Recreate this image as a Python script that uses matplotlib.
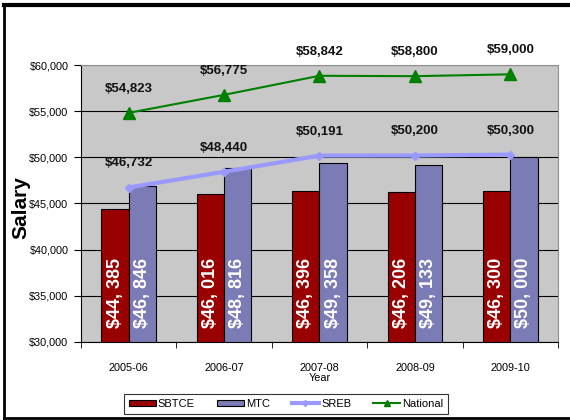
import numpy as np
import matplotlib
matplotlib.use("Agg")
import matplotlib.pyplot as plt
from matplotlib.lines import Line2D
from matplotlib.ticker import FuncFormatter, FixedLocator

# data
years = ["2005-06", "2006-07", "2007-08", "2008-09", "2009-10"]
sbtce = [44385, 46016, 46396, 46206, 46300]
mtc = [46846, 48816, 49358, 49133, 50000]
sreb = [46732, 48440, 50191, 50200, 50300]
national = [54823, 56775, 58842, 58800, 59000]

arial = ["Liberation Sans", "DejaVu Sans"]

red = "#990000"
blue = "#7b7bb5"
lav = "#9999ff"
green = "#008000"

fig = plt.figure(figsize=(5.7, 4.2), dpi=100)
ax = fig.add_axes([0.142, 0.186, 0.837, 0.659])
ax.set_facecolor("#c8c8c8")

x = np.arange(len(years))
w = 0.286
ax.bar(x - w/2, np.array(sbtce) - 30000, w, bottom=30000, color=red,
       edgecolor="black", linewidth=0.8, zorder=3)
ax.bar(x + w/2, np.array(mtc) - 30000, w, bottom=30000, color=blue,
       edgecolor="black", linewidth=0.8, zorder=3)

# values written up the bars
for xs, vals in ((x - w/2, sbtce), (x + w/2, mtc)):
    for xi, v in zip(xs, vals):
        s = "${:,}".format(v).replace(",", ", ")
        ax.annotate(s, (xi, 30000), xytext=(0, 10), textcoords="offset points",
                    rotation=90, ha="center", va="bottom", color="white",
                    fontsize=13, fontweight="bold", family=arial, zorder=5)

ax.plot(x, sreb, color=lav, lw=3, marker="D", ms=4, zorder=4)
ax.plot(x, national, color=green, lw=1.5, marker="^", ms=8, zorder=4)

for series in (sreb, national):
    for xi, v in zip(x, series):
        ax.annotate("${:,}".format(v), (xi, v), xytext=(0, 13), textcoords="offset points",
                    ha="center", va="bottom", fontsize=9.5, fontweight="bold",
                    family=arial, color="#111111", zorder=6)

ax.set_xlim(-0.5, len(years) - 0.5)
ax.set_ylim(30000, 60000)
ax.set_yticks(np.arange(30000, 60001, 5000))
ax.yaxis.set_major_formatter(FuncFormatter(lambda v, p: "${:,.0f}".format(v)))
ax.grid(axis="y", color="black", lw=0.8, zorder=1)
ax.set_axisbelow(True)

ax.set_xticks(x)
ax.set_xticklabels(years)
ax.xaxis.set_minor_locator(FixedLocator(np.arange(-0.5, len(years), 1.0)))
ax.tick_params(axis="x", which="major", length=0, pad=15)
ax.tick_params(axis="x", which="minor", length=4, direction="out")
ax.tick_params(axis="y", length=5, direction="out", pad=4)
for lab in ax.get_xticklabels() + ax.get_yticklabels():
    lab.set_family(arial)
    lab.set_fontsize(7.8)

ax.set_xlabel("Year", family=arial, fontsize=7.8, labelpad=0)
ax.set_ylabel("Salary", family=arial, fontsize=15, fontweight="bold")
ax.yaxis.set_label_coords(-0.105, 0.487)

for side in ("top", "right"):
    ax.spines[side].set_color("#909090")
for side in ("left", "bottom"):
    ax.spines[side].set_color("black")

handles = [
    plt.Rectangle((0, 0), 1, 1, facecolor=red, edgecolor="black", lw=0.8),
    plt.Rectangle((0, 0), 1, 1, facecolor=blue, edgecolor="black", lw=0.8),
    Line2D([], [], color=lav, lw=3, marker="D", ms=3),
    Line2D([], [], color=green, lw=1.5, marker="^", ms=5),
]
leg = fig.legend(handles, ["SBTCE", "MTC", "SREB", "National"], loc="center",
                 bbox_to_anchor=(0.502, 0.038), ncol=4, frameon=True, fancybox=False,
                 prop={"family": arial, "size": 8}, handlelength=2.4, handleheight=0.5,
                 handletextpad=0.2, columnspacing=2.0, borderpad=0.45)
leg.get_frame().set_edgecolor("black")
leg.get_frame().set_linewidth(0.8)

# outer frame of the picture
top = 1 - 5/420
bot = 1 - 418/420
lx = 4/570
fig.add_artist(Line2D([lx, 1], [top, top], color="black", lw=3, transform=fig.transFigure))
fig.add_artist(Line2D([lx, lx], [bot, top], color="black", lw=2, transform=fig.transFigure))
fig.add_artist(Line2D([lx, 1], [bot, bot], color="black", lw=2, transform=fig.transFigure))

fig.savefig("out.png", dpi=100)
